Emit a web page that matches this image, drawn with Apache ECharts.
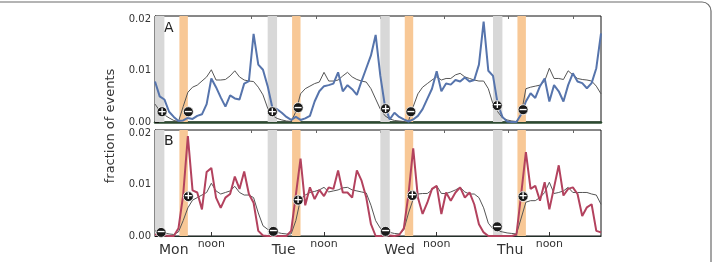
<!DOCTYPE html>
<html>
<head>
<meta charset="utf-8">
<script src="https://cdn.jsdelivr.net/npm/echarts@6/dist/echarts.min.js"></script>
<style>
  html, body { margin: 0; padding: 0; background: #fff; }
  #chart { width: 715px; height: 262px; }
</style>
</head>
<body>
<div id="chart"></div>
<script>
// hours since Monday 00:00, one point per hour
var hours = Array.from({length: 96}, function (_, i) { return i; });

var dayNames = ['Mon', 'Tue', 'Wed', 'Thu'];
var dayTicks = [0, 24, 48, 72];
var noonTicks = [12, 36, 60, 84];
var topTicks = [6.7, 20.6, 34.4, 48, 61.7, 75.2, 89];
var yTicks = [0, 0.01, 0.02];

// shaded hour ranges
var grayBands = [[0, 2], [24, 26], [48, 50], [72, 74]];
var orangeBands = [[5.2, 7], [29.2, 31], [53.2, 55], [77.2, 79]];

// panel A
var blueA = [
  .0079, .0050, .0044, .0020, .0010, .0002, .0003, .0008, .0006, .0012, .0015, .0035,
  .0085, .0068, .0048, .0030, .0052, .0046, .0044, .0075, .0080, .0172, .0112, .0102,
  .0070, .0028, .0025, .0018, .0010, .0004, .0010, .0004, .0007, .0012, .0040, .0060,
  .0070, .0072, .0075, .0097, .0060, .0072, .0064, .0053, .0080, .0105, .0130, .0170,
  .0090, .0030, .0005, .0018, .0010, .0005, .0001, .0005, .0012, .0025, .0045, .0065,
  .0099, .0060, .0075, .0073, .0082, .0079, .0087, .0079, .0082, .0112, .0196, .0100,
  .0090, .0035, .0010, .0001, .0000, .0000, .0015, .0040, .0056, .0047, .0070, .0085,
  .0040, .0072, .0060, .0040, .0072, .0095, .0079, .0076, .0066, .0076, .0105, .0173
];
var grayA = [
  .0035, .0022, .0014, .0008, .0003, .0001, .0030, .0058, .0068, .0072, .0080, .0088,
  .0102, .0082, .0082, .0083, .0090, .0100, .0088, .0082, .0080, .0079, .0068, .0053,
  .0027, .0013, .0007, .0004, .0002, .0001, .0020, .0055, .0065, .0070, .0075, .0078,
  .0097, .0080, .0080, .0082, .0090, .0097, .0088, .0083, .0080, .0078, .0065, .0045,
  .0025, .0012, .0006, .0003, .0002, .0001, .0002, .0030, .0055, .0068, .0075, .0082,
  .0088, .0082, .0085, .0085, .0092, .0095, .0088, .0085, .0082, .0080, .0080, .0065,
  .0035, .0020, .0008, .0004, .0002, .0001, .0015, .0065, .0068, .0070, .0072, .0080,
  .0105, .0085, .0085, .0083, .0100, .0092, .0085, .0083, .0082, .0080, .0070, .0055
];
var plusA = [[1.5, .0020], [25.0, .0020], [49.1, .0026], [72.9, .0032]];
var minusA = [[7.1, .0020], [30.5, .0028], [54.5, .0020], [78.4, .0024]];

// panel B
var redB = [
  .0003, .0002, .0001, .0000, .0000, .0015, .0080, .0195, .0089, .0085, .0052, .0125,
  .0133, .0075, .0055, .0075, .0082, .0116, .0092, .0126, .0082, .0065, .0010, .0001,
  .0000, .0000, .0000, .0000, .0000, .0010, .0080, .0151, .0060, .0095, .0072, .0090,
  .0078, .0095, .0092, .0128, .0085, .0085, .0075, .0128, .0108, .0075, .0023, .0000,
  .0000, .0001, .0001, .0000, .0002, .0015, .0082, .0171, .0075, .0043, .0065, .0092,
  .0098, .0043, .0085, .0069, .0085, .0095, .0075, .0085, .0062, .0023, .0007, .0000,
  .0000, .0000, .0000, .0000, .0000, .0003, .0082, .0164, .0092, .0098, .0069, .0105,
  .0052, .0095, .0138, .0079, .0092, .0095, .0082, .0039, .0056, .0062, .0010, .0007
];
var grayB = [
  .0010, .0008, .0006, .0004, .0003, .0008, .0030, .0055, .0070, .0075, .0080, .0085,
  .0103, .0088, .0082, .0085, .0088, .0097, .0085, .0080, .0080, .0075, .0045, .0020,
  .0013, .0009, .0007, .0005, .0004, .0004, .0030, .0072, .0080, .0085, .0087, .0090,
  .0095, .0086, .0088, .0090, .0094, .0095, .0090, .0088, .0086, .0084, .0060, .0030,
  .0015, .0010, .0007, .0005, .0004, .0012, .0045, .0072, .0082, .0083, .0083, .0090,
  .0098, .0083, .0083, .0086, .0090, .0095, .0086, .0082, .0082, .0075, .0055, .0025,
  .0014, .0010, .0008, .0006, .0005, .0004, .0035, .0066, .0069, .0069, .0075, .0085,
  .0105, .0083, .0085, .0088, .0095, .0085, .0085, .0085, .0085, .0082, .0080, .0062
];
var minusB = [[1.3, .0007], [25.2, .0009], [49.1, .0009], [72.9, .0018]];
var plusB = [[7.1, .0077], [30.5, .0070], [54.8, .0079], [78.4, .0077]];

var FONT = 'DejaVu Sans';

function pairs(ys) {
  return hours.map(function (h, i) { return [h, ys[i]]; });
}

function bands() {
  var out = [];
  grayBands.forEach(function (b) {
    out.push([{xAxis: b[0], itemStyle: {color: '#d8d8d8'}}, {xAxis: b[1]}]);
  });
  orangeBands.forEach(function (b) {
    out.push([{xAxis: b[0], itemStyle: {color: '#f8c896'}}, {xAxis: b[1]}]);
  });
  return out;
}

function signs(data, sign, xi, yi) {
  return {
    type: 'scatter', xAxisIndex: xi, yAxisIndex: yi, data: data,
    symbol: 'circle', symbolSize: 10, z: 5, silent: true,
    itemStyle: {color: '#1a1a1a', borderColor: '#fff', borderWidth: 0.8, opacity: 1},
    label: {
      show: true, position: 'inside', formatter: sign,
      color: '#fff', fontSize: 11, fontWeight: 'bold', fontFamily: FONT
    }
  };
}

function yAxis(gi) {
  return {
    type: 'value', gridIndex: gi, min: 0, max: 0.0207,
    splitLine: {show: false},
    axisLine: {show: true, lineStyle: {color: '#111', width: 1}},
    axisTick: {show: true, inside: true, length: 4, customValues: yTicks, lineStyle: {color: '#111'}},
    axisLabel: {
      customValues: yTicks, margin: 4, fontSize: 10, color: '#333', fontFamily: FONT,
      formatter: function (v) { return v.toFixed(2); }
    }
  };
}

function topAxis(gi) {
  return {
    type: 'value', gridIndex: gi, min: 0, max: 95, position: 'top',
    splitLine: {show: false}, axisLine: {show: false}, axisLabel: {show: false},
    axisTick: {show: true, inside: true, length: 3, customValues: topTicks, lineStyle: {color: '#666'}}
  };
}

var myChart = echarts.init(document.getElementById('chart'));
var option = {
  backgroundColor: '#fff',
  animation: false,
  grid: [
    {left: 155, top: 16, width: 446, height: 106, show: true, borderColor: '#111', borderWidth: 1},
    {left: 155, top: 130, width: 446, height: 106, show: true, borderColor: '#111', borderWidth: 1}
  ],
  xAxis: [
    {
      type: 'value', gridIndex: 0, min: 0, max: 95,
      splitLine: {show: false},
      axisLine: {show: true, lineStyle: {color: '#2c4a30', width: 2.5}},
      axisTick: {show: false}, axisLabel: {show: false}
    },
    {
      type: 'value', gridIndex: 1, min: 0, max: 95,
      splitLine: {show: false},
      axisLine: {show: true, lineStyle: {color: '#22302a', width: 1.2}},
      axisTick: {show: true, inside: true, length: 4, customValues: noonTicks, lineStyle: {color: '#333'}},
      axisLabel: {
        customValues: noonTicks, margin: 3, fontSize: 11, color: '#333', fontFamily: FONT,
        formatter: function () { return 'noon'; }
      }
    },
    {
      type: 'value', gridIndex: 1, min: 0, max: 95, position: 'bottom',
      splitLine: {show: false}, axisLine: {show: false}, axisTick: {show: false},
      axisLabel: {
        customValues: dayTicks, margin: 7, fontSize: 14, color: '#333', fontFamily: FONT,
        align: 'left', padding: [0, 0, 0, 4],
        formatter: function (v) { return dayNames[Math.round(v / 24)]; }
      }
    },
    topAxis(0),
    topAxis(1)
  ],
  yAxis: [yAxis(0), yAxis(1)],
  series: [
    {
      type: 'line', xAxisIndex: 0, yAxisIndex: 0, data: pairs(grayA),
      symbol: 'none', lineStyle: {color: '#555', width: 1}, z: 3,
      markArea: {silent: true, z: 1, data: bands()}
    },
    {
      type: 'line', xAxisIndex: 0, yAxisIndex: 0, data: pairs(blueA),
      symbol: 'none', lineStyle: {color: '#5674ac', width: 2}, z: 4
    },
    signs(plusA, '+', 0, 0),
    signs(minusA, '\u2212', 0, 0),
    {
      type: 'line', xAxisIndex: 1, yAxisIndex: 1, data: pairs(grayB),
      symbol: 'none', lineStyle: {color: '#555', width: 1}, z: 3,
      markArea: {silent: true, z: 1, data: bands()}
    },
    {
      type: 'line', xAxisIndex: 1, yAxisIndex: 1, data: pairs(redB),
      symbol: 'none', lineStyle: {color: '#b3425e', width: 2}, z: 4
    },
    signs(plusB, '+', 1, 1),
    signs(minusB, '\u2212', 1, 1)
  ],
  graphic: [
    {
      type: 'rect', silent: true, z: 0,
      shape: {x: -12, y: 2, width: 723, height: 280, r: 9},
      style: {fill: 'none', stroke: '#6a6a6a', lineWidth: 1.2}
    },
    {type: 'text', left: 164, top: 21, style: {text: 'A', fontSize: 14, fill: '#222', fontFamily: FONT}},
    {type: 'text', left: 164, top: 134, style: {text: 'B', fontSize: 14, fill: '#222', fontFamily: FONT}},
    {
      type: 'text', x: 111, y: 126, rotation: Math.PI / 2,
      style: {
        text: 'fraction of events', fontSize: 13, fill: '#333', fontFamily: FONT,
        align: 'center', verticalAlign: 'middle'
      }
    }
  ]
};
myChart.setOption(option, true);
</script>
</body>
</html>
